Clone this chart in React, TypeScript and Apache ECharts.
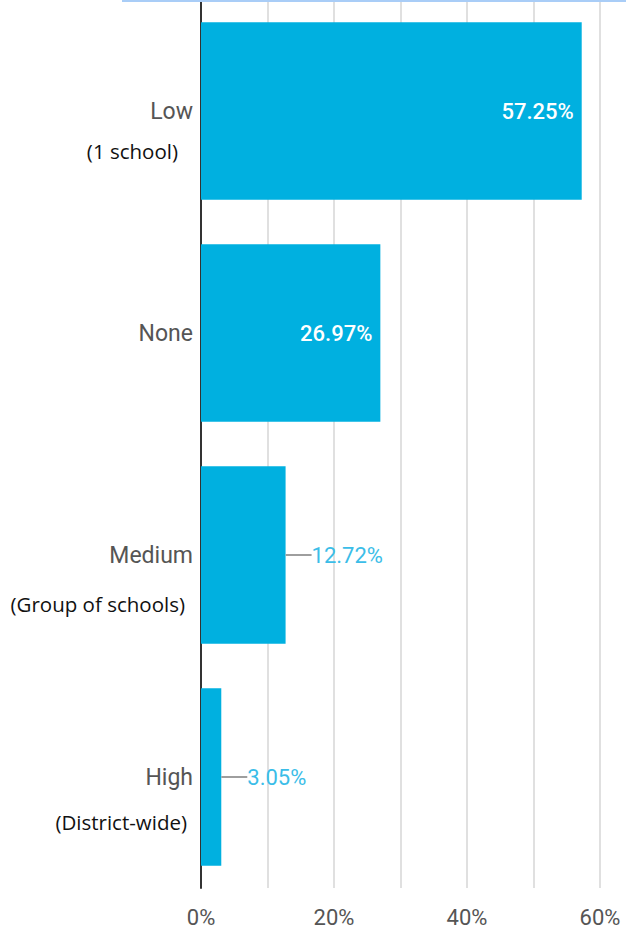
import React, { useEffect, useRef } from "react";
import * as echarts from "echarts";

const categories = ["Low", "None", "Medium", "High"];
const subLabels = ["(1 school)", "", "(Group of schools)", "(District-wide)"];
const values = [57.25, 26.97, 12.72, 3.05];
const tickValues = [0, 20, 40, 60];

const BAR_COLOR = "#00b0e0";
const OUT_LABEL_COLOR = "#3bbde8";

export default function App() {
  const ref = useRef<HTMLDivElement>(null);

  useEffect(() => {
    if (!ref.current) return;
    const chart = echarts.init(ref.current, null, { renderer: "svg" });

    const subStyles: Record<string, any> = {};
    const subOffsets = [40, 0, 49, 45];
    const subPads = [15, 0, 8, 6];
    categories.forEach((_, i) => {
      const L = Math.max(subOffsets[i] * 2 - 30, 10);
      subStyles["s" + i] = { lineHeight: L, fontSize: 10, color: "transparent" };
      subStyles["b" + i] = {
        lineHeight: L,
        fontSize: 20.5,
        fontFamily: "Open Sans",
        color: "#111",
        padding: [0, subPads[i], 0, 0],
      };
    });

    const data = values.map((v) =>
      v > 20
        ? {
            value: v,
            label: {
              show: true,
              position: "insideRight",
              distance: 8,
              color: "#ffffff",
              fontFamily: "Roboto",
              fontSize: 22,
              fontWeight: 500,
              formatter: (p: any) => p.value.toFixed(2) + "%",
            },
          }
        : {
            value: v,
            label: {
              show: true,
              position: "right",
              distance: 0,
              formatter: (p: any) => "{l| }{v|" + p.value.toFixed(2) + "%}",
              rich: {
                l: { width: 26, height: 2, backgroundColor: "#9e9e9e", fontSize: 2 },
                v: { color: OUT_LABEL_COLOR, fontFamily: "Roboto", fontSize: 22 },
              },
            },
          }
    );

    chart.setOption({
      animation: false,
      backgroundColor: "#ffffff",
      grid: { left: 201, right: 26, top: -3, bottom: 41, containLabel: false },
      xAxis: {
        type: "value",
        min: 0,
        max: 60,
        interval: 10,
        axisLine: { show: false },
        axisTick: { show: false },
        splitLine: { show: true, lineStyle: { color: "#e0e0e0", width: 2 } },
        axisLabel: {
          margin: 18,
          color: "#555",
          fontFamily: "Roboto",
          fontSize: 22,
          formatter: (v: number) => (tickValues.indexOf(v) >= 0 ? v + "%" : ""),
        },
      },
      yAxis: {
        type: "category",
        inverse: true,
        data: categories,
        axisLine: { show: true, lineStyle: { color: "#333", width: 2 } },
        axisTick: { show: false },
        axisLabel: {
          margin: 8,
          formatter: (val: string, idx: number) => {
            const sub = subLabels[idx];
            if (!sub) return "{a|" + val + "}";
            return "{s" + idx + "| }\n{a|" + val + "}\n{b" + idx + "|" + sub + "}";
          },
          rich: {
            a: { fontFamily: "Roboto", fontSize: 23, color: "#555", lineHeight: 30 },
            ...subStyles,
          },
        },
      },
      graphic: [
        {
          type: "line",
          shape: { x1: 122, y1: 1, x2: 626, y2: 1 },
          style: { stroke: "#a9cdf7", lineWidth: 2 },
          z: 100,
        },
      ],
      series: [
        {
          type: "bar",
          data,
          barCategoryGap: "20%",
          itemStyle: { color: BAR_COLOR },
        },
      ],
    });

    return () => chart.dispose();
  }, []);

  return (
    <div
      ref={ref}
      style={{ position: "absolute", left: 0, top: 0, width: 626, height: 929 }}
    />
  );
}
